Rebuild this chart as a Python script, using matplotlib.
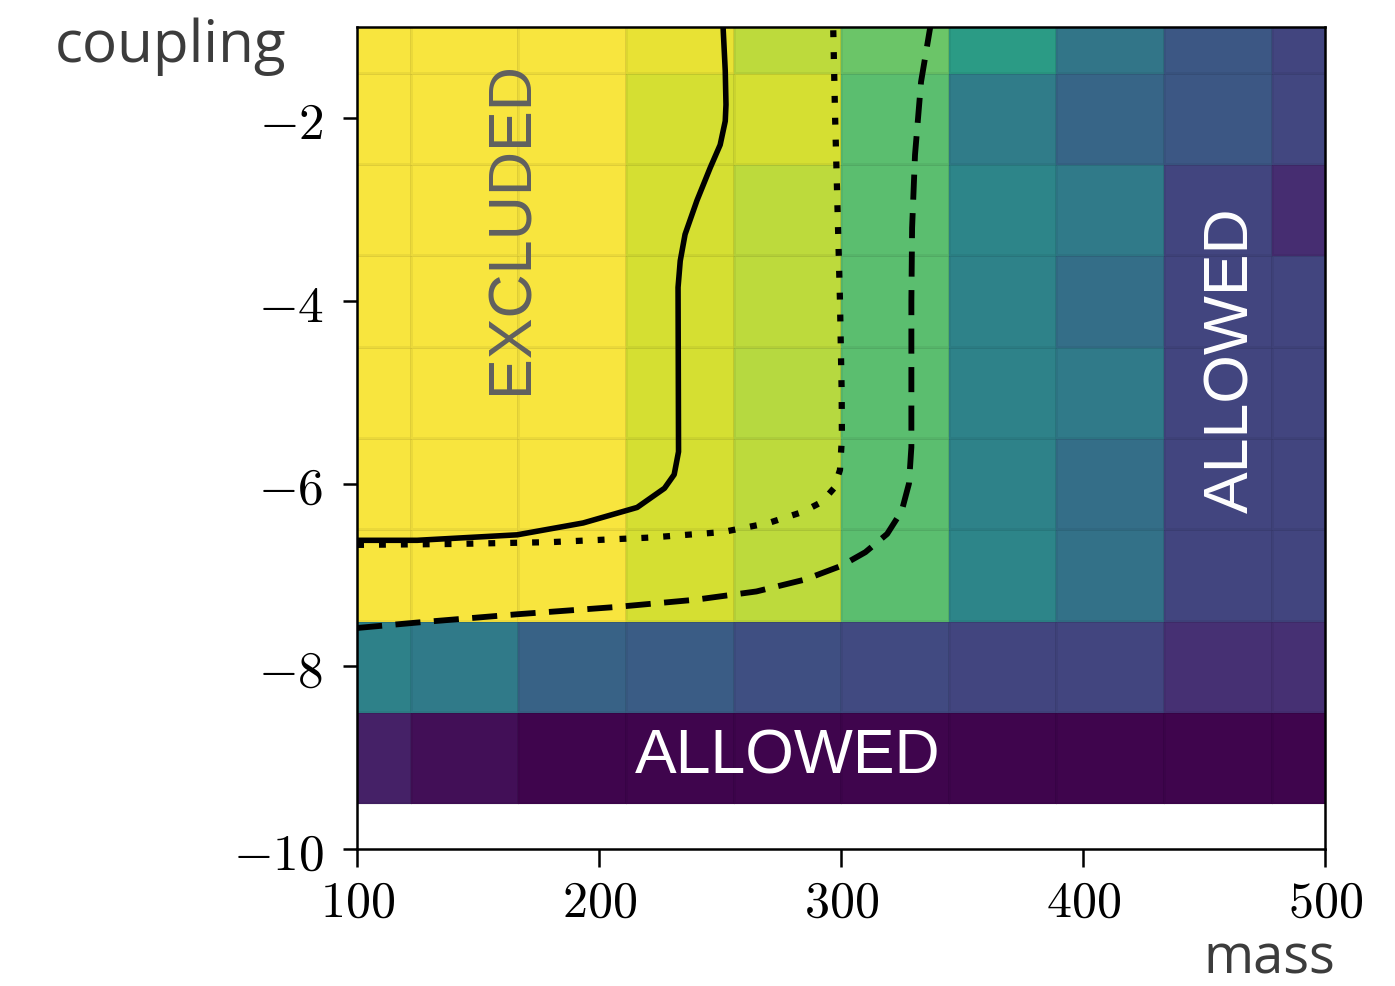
import numpy as np
import matplotlib
matplotlib.use('Agg')
import matplotlib.pyplot as plt
from matplotlib.colors import ListedColormap

plt.rcParams['mathtext.fontset'] = 'cm'

# grid of the scan
mass = [100.0, 144.4, 188.9, 233.3, 277.8, 322.2, 366.7, 411.1, 455.6, 500.0]
coupling = [-9, -8, -7, -6, -5, -4, -3, -2, -1]

# colour values, one row per coupling (bottom -> top)
z = np.array([
    [0.08, 0.03, 0.00, 0.00, 0.00, 0.00, 0.00, 0.00, 0.00, 0.00],
    [0.45, 0.42, 0.32, 0.29, 0.24, 0.22, 0.20, 0.20, 0.13, 0.13],
    [1.00, 1.00, 1.00, 0.94, 0.90, 0.73, 0.47, 0.38, 0.20, 0.20],
    [1.00, 1.00, 1.00, 0.94, 0.90, 0.73, 0.46, 0.37, 0.20, 0.20],
    [1.00, 1.00, 1.00, 0.94, 0.89, 0.73, 0.46, 0.42, 0.20, 0.20],
    [1.00, 1.00, 1.00, 0.94, 0.90, 0.73, 0.46, 0.37, 0.20, 0.20],
    [1.00, 1.00, 1.00, 0.94, 0.90, 0.73, 0.47, 0.42, 0.20, 0.12],
    [1.00, 1.00, 1.00, 0.94, 0.94, 0.73, 0.43, 0.33, 0.27, 0.21],
    [1.00, 1.00, 1.00, 0.97, 0.90, 0.76, 0.57, 0.40, 0.27, 0.20],
])

# exclusion contours
solid_m = [100, 124.8, 166.1, 193.4, 215.7, 227, 231, 232.8, 232.6, 233.5, 235.5, 240.4, 245.9, 250.0, 252.1, 252.4, 252.1, 251.2]
solid_c = [-6.62, -6.62, -6.56, -6.43, -6.26, -6.05, -5.9, -5.65, -3.85, -3.56, -3.27, -2.9, -2.54, -2.29, -2.03, -1.85, -1.48, -1.0]

dot_m = [100, 140, 180, 221, 251, 270, 284, 292, 297, 299.5, 300.3, 300.2, 299.5, 298.5, 297.5, 296.7]
dot_c = [-6.67, -6.66, -6.64, -6.59, -6.53, -6.43, -6.31, -6.2, -6.05, -5.85, -5.5, -5.0, -4.0, -3.0, -2.0, -1.0]

dash_m = [100, 125, 166, 207, 240, 265, 285, 300, 310, 319, 325, 328, 329, 329, 329.3, 330.5, 333, 336.8]
dash_c = [-7.58, -7.52, -7.43, -7.35, -7.27, -7.18, -7.05, -6.9, -6.75, -6.55, -6.3, -6.0, -5.6, -4.0, -3.2, -2.4, -1.6, -1.0]

yticks = [-10, -8, -6, -4, -2]
ytick_labels = ['$-10$', '$-8$', '$-6$', '$-4$', '$-2$']
xticks = [100, 200, 300, 400, 500]
xtick_labels = ['$100$', '$200$', '$300$', '$400$', '$500$']

# viridis, a little washed out like the scanned figure
base = plt.get_cmap('viridis')(np.linspace(0, 1, 256))
lum = base[:, :3] @ np.array([0.299, 0.587, 0.114])
base[:, :3] = base[:, :3] + 0.14 * (lum[:, None] - base[:, :3])
cmap = ListedColormap(base)

fig = plt.figure(figsize=(13.95, 9.87), dpi=100)
ax = fig.add_axes([0.256, 0.1388, 0.694, 0.8328])

ax.pcolormesh(mass, coupling, z, cmap=cmap, vmin=0, vmax=1,
              shading='nearest', edgecolors=(0, 0, 0, 0.05), linewidth=1)

ax.plot(solid_m, solid_c, color='k', lw=4, ls='-')
ax.plot(dot_m, dot_c, color='k', lw=4.5, ls=(0, (1.1, 2.4)))
ax.plot(dash_m, dash_c, color='k', lw=4.2, ls=(0, (4.3, 2.3)))

ax.set_xlim(100, 500)
ax.set_ylim(-10, -1)
ax.set_xticks(xticks)
ax.set_xticklabels(xtick_labels, fontsize=36)
ax.set_yticks(yticks)
ax.set_yticklabels(ytick_labels, fontsize=37)
ax.tick_params(axis='x', length=13, width=1.8, pad=8)
ax.tick_params(axis='y', length=10, width=1.8, pad=14)
for s in ax.spines.values():
    s.set_linewidth(1.8)

# region labels
ax.text(170.2, -3.18, 'EXCLUDED', rotation=90, rotation_mode='anchor',
        ha='center', va='baseline', fontsize=44, color='#606060',
        family='Liberation Sans')
ax.text(468.2, -4.64, 'ALLOWED', rotation=90, rotation_mode='anchor',
        ha='center', va='baseline', fontsize=45, color='white',
        family='Liberation Sans')
ax.text(277.7, -9.16, 'ALLOWED', ha='center', va='baseline', fontsize=45,
        color='white', family='Liberation Sans')

# axis names
fig.text(0.0394, 0.937, 'coupling', ha='left', va='baseline', fontsize=42,
         color='#3c3c3c', family='Open Sans')
fig.text(0.957, 0.014, 'mass', ha='right', va='baseline', fontsize=39,
         color='#3c3c3c', family='Open Sans')

fig.savefig('out.png', dpi=100)
